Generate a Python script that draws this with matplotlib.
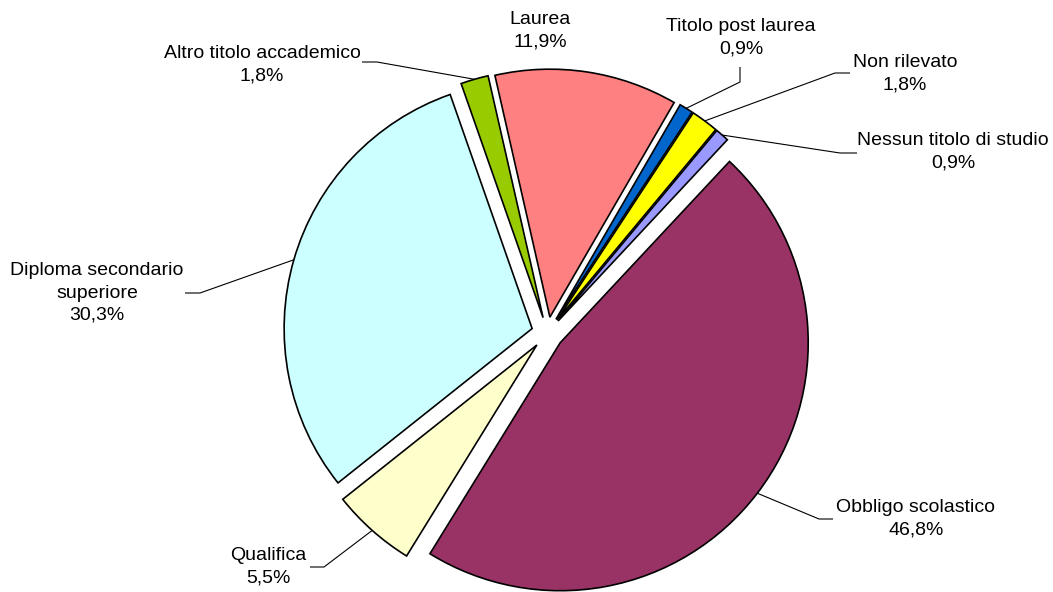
import math
import matplotlib
matplotlib.use("Agg")
import matplotlib.pyplot as plt

# ---- data ----
categories = ['Nessun titolo di studio', 'Obbligo scolastico', 'Qualifica',
              'Diploma secondario\nsuperiore', 'Altro titolo accademico',
              'Laurea', 'Titolo post laurea', 'Non rilevato']
percent = [0.9, 46.8, 5.5, 30.3, 1.8, 11.9, 0.9, 1.8]
colors = ['#9999FF', '#993366', '#FFFFCC', '#CCFFFF', '#99CC00',
          '#FF8080', '#0066CC', '#FFFF00']

# ---- layout (pixel coords, y measured from top) ----
W, H = 1053, 592
label_pos = [(953, 152), (916, 519), (268, 567), (97, 293), (262, 65),
             (540, 31), (741, 38), (905, 74)]
elbows = [[(840, 153), (857, 153)],
          [(819, 519), (833, 519)],
          [(324, 567), (310, 567)],
          [(200, 293), (185, 293)],
          [(377, 62), (362, 62)],
          [],
          [(740, 82), (740, 67)],
          [(835, 73), (850, 73)]]

plt.rcParams['font.family'] = ['Liberation Sans', 'DejaVu Sans']

fig = plt.figure(figsize=(W / 100, H / 100), dpi=100)
ax = fig.add_axes([0, 0, 1, 1])

wedges, _ = ax.pie(percent, colors=colors, startangle=50.2, counterclock=False,
                   explode=[16] * len(percent), radius=248,
                   center=(547.5, H - 333),
                   wedgeprops=dict(edgecolor='black', linewidth=1.2))
ax.set_xlim(0, W)
ax.set_ylim(0, H)
ax.set_aspect('equal')
ax.axis('off')

for w, cat, v, (tx, ty), elb in zip(wedges, categories, percent, label_pos, elbows):
    txt = cat + '\n' + f"{v:.1f}".replace('.', ',') + '%'
    ax.text(tx, H - ty, txt, ha='center', va='center', fontsize=14,
            color='black', linespacing=1.4)
    if elb:
        cx, cy = w.center
        thm = math.radians(0.5 * (w.theta1 + w.theta2))
        ax_pt = (cx + w.r * math.cos(thm), cy + w.r * math.sin(thm))
        xs = [ax_pt[0]] + [p[0] for p in elb]
        ys = [ax_pt[1]] + [H - p[1] for p in elb]
        ax.plot(xs, ys, color='black', linewidth=0.8, solid_capstyle='butt')

fig.savefig('out.png', dpi=100)
